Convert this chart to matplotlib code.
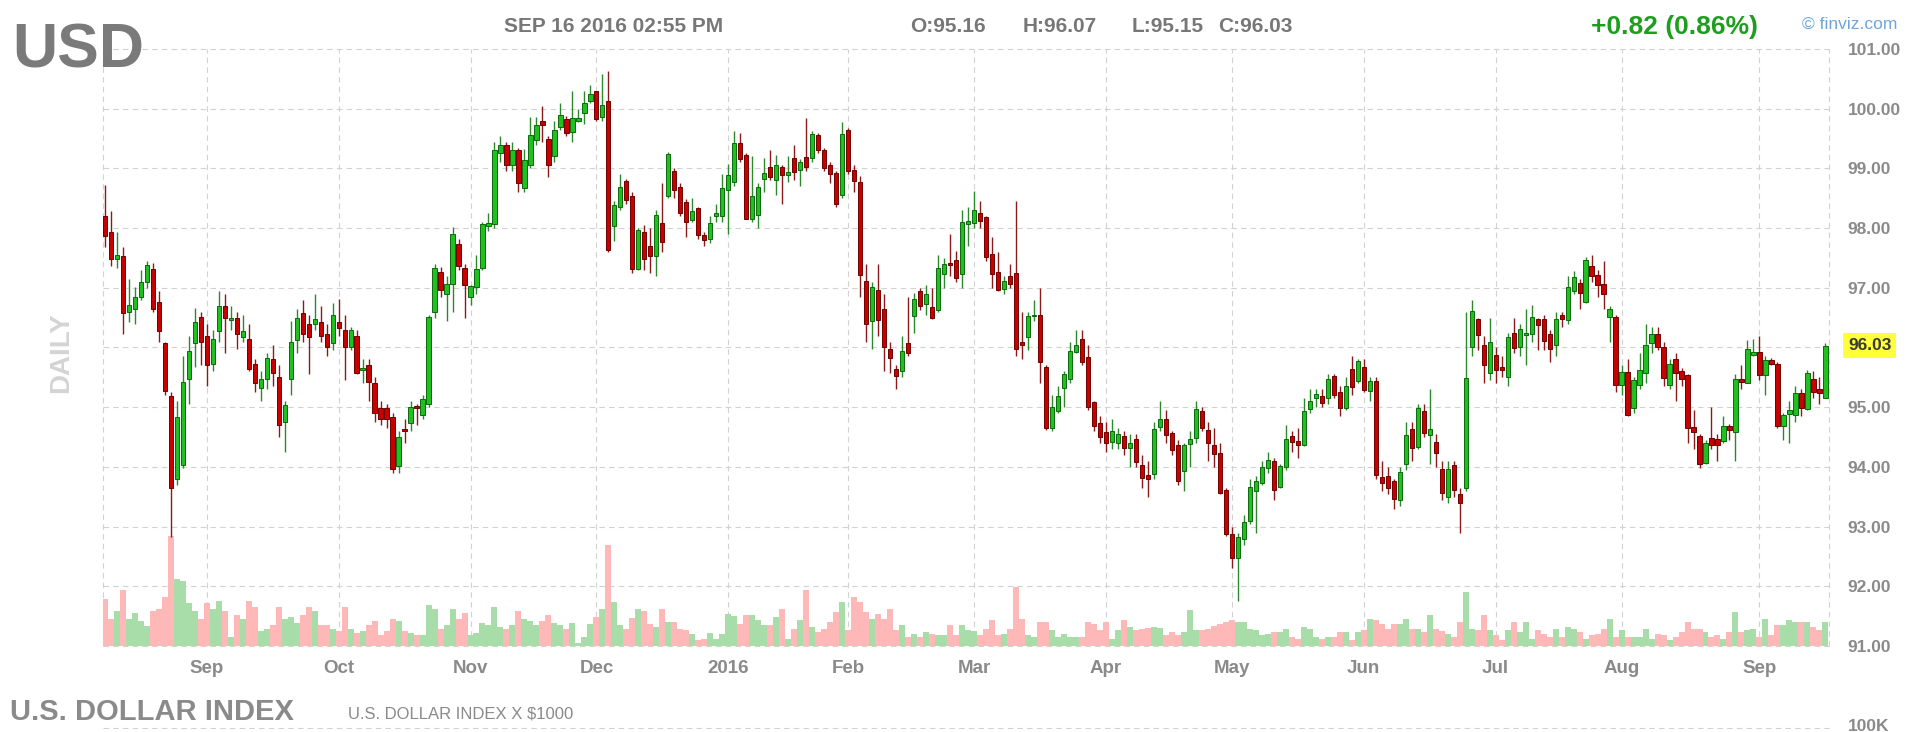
import matplotlib
matplotlib.use('Agg')
import matplotlib.pyplot as plt
import matplotlib.transforms as mtransforms
from matplotlib.lines import Line2D
import numpy as np

plt.rcParams['font.family'] = ['Liberation Sans', 'DejaVu Sans']
plt.rcParams['lines.scale_dashes'] = False

# daily OHLC, Aug 2015 .. Sep 16 2016
opens = [
    98.21, 97.94, 97.48, 97.54, 96.60, 96.65, 96.84, 97.10, 97.32, 96.77, 96.08, 95.18, 93.80, 94.04, 95.47, 96.08, 96.51,
    96.19, 95.73, 96.27, 96.70, 96.46, 96.50, 96.18, 96.14, 95.73, 95.32, 95.48, 95.80, 95.51, 94.76, 95.48, 96.12, 96.57, 96.40, 96.40, 96.43, 96.23, 96.07,
    96.43, 96.30, 96.00, 96.20, 95.62, 95.70, 95.40, 94.99, 94.99, 94.83, 94.01, 94.64, 94.73, 95.02, 94.87, 95.05, 96.59, 97.27, 96.90, 97.07, 97.73, 97.34,
    96.84, 97.01, 97.34, 98.03, 98.07, 99.25, 99.40, 99.05, 99.30, 98.67, 99.06, 99.47, 99.80, 99.50, 99.20, 99.69, 99.83, 99.61, 99.80, 99.92, 100.13,
    100.29, 99.86, 100.13, 98.03, 98.36, 98.79, 98.54, 97.32, 97.94, 97.70, 97.53, 98.09, 98.53, 98.96, 98.69, 98.43, 98.13, 98.33, 97.89, 97.82, 98.20, 98.20,
    98.64, 98.78, 99.43, 99.22, 98.15, 98.22, 98.83, 99.03, 98.81, 99.03, 98.89, 99.17, 98.97, 99.19, 99.17, 99.56, 99.31, 99.06, 98.93, 98.55,
    99.65, 98.98, 98.77, 97.11, 96.44, 96.97, 96.64, 95.98, 95.64, 95.60, 96.08, 96.53, 96.94, 96.73, 96.68, 96.62, 97.23, 97.41, 97.47, 97.23, 98.07,
    98.09, 98.26, 98.18, 97.57, 97.27, 96.98, 97.20, 97.25, 96.10, 96.18, 96.52, 96.54, 95.68, 94.65, 94.93, 95.32, 95.47, 95.93, 96.15, 95.84, 95.08, 94.73,
    94.58, 94.42, 94.40, 94.51, 94.31, 94.47, 94.04, 93.87, 93.88, 94.66, 94.81, 94.57, 94.37, 93.93, 94.38, 94.48, 94.94, 94.61, 94.37, 94.23, 93.61,
    92.88, 92.47, 92.80, 93.09, 93.59, 93.73, 93.98, 94.10, 93.66, 93.99, 94.51, 94.44, 94.37, 94.97, 95.15, 95.19, 95.15, 95.53, 95.26, 94.99, 95.64, 95.44,
    95.67, 95.27, 95.44, 93.83, 93.84, 93.77, 93.44, 94.05, 94.64, 94.34, 94.94, 94.54, 94.42, 93.97, 93.50, 94.04, 93.54, 93.64, 96.01, 96.47, 96.04, 95.57,
    95.88, 95.68, 95.51, 96.25, 96.01, 96.21, 96.23, 96.48, 96.48, 96.23, 96.04, 96.55, 96.46, 96.94, 97.08, 96.77, 97.37, 97.21, 97.07, 96.51, 96.51,
    95.37, 95.59, 94.98, 95.37, 95.57, 96.07, 96.23, 96.01, 95.38, 95.81, 95.61, 95.54, 94.66, 94.51, 94.07, 94.49, 94.47, 94.43, 94.68, 94.58, 95.48, 95.40, 95.87,
    95.93, 95.54, 95.79, 95.72, 94.69, 94.88, 94.87, 95.24, 94.97, 95.47, 95.31, 95.16,
]
highs = [
    98.72, 98.28, 97.93, 97.68, 97.15, 97.01, 97.29, 97.45, 97.42, 96.95, 96.10, 95.26, 95.10, 95.85, 96.20, 96.67, 96.60,
    96.40, 96.30, 96.95, 96.90, 96.70, 96.60, 96.55, 96.40, 95.80, 95.60, 95.90, 96.05, 95.70, 95.10, 96.45, 96.65, 96.80, 96.55, 96.90, 96.70, 96.40, 96.75,
    96.82, 96.55, 96.35, 96.30, 95.80, 95.80, 95.50, 95.10, 95.05, 94.90, 94.60, 94.80, 95.10, 95.05, 95.20, 96.55, 97.40, 97.35, 97.20, 98.02, 97.82, 97.40,
    97.05, 97.55, 98.10, 98.25, 99.45, 99.55, 99.45, 99.45, 99.35, 99.33, 99.86, 99.86, 100.05, 99.55, 99.80, 100.10, 99.88, 100.30, 100.00, 100.30, 100.40,
    100.30, 100.58, 100.63, 98.45, 98.90, 98.82, 98.60, 98.00, 98.05, 98.00, 98.30, 98.75, 99.27, 99.00, 98.75, 98.48, 98.50, 98.35, 97.93, 98.20, 98.40, 98.90,
    99.08, 99.63, 99.60, 99.25, 99.20, 98.75, 99.17, 99.30, 99.23, 99.05, 99.20, 99.40, 99.15, 99.85, 99.62, 99.60, 99.35, 99.10, 98.95, 99.78,
    99.68, 99.05, 98.88, 97.40, 97.10, 97.40, 96.90, 96.10, 95.70, 96.20, 96.85, 96.92, 97.00, 97.05, 97.00, 97.55, 97.50, 97.90, 97.62, 98.30, 98.35,
    98.62, 98.45, 98.20, 97.85, 97.60, 97.20, 97.40, 98.45, 96.60, 96.60, 96.80, 97.00, 95.70, 95.20, 95.35, 95.60, 96.10, 96.30, 96.30, 96.05, 95.10, 94.85,
    94.75, 94.80, 94.65, 94.60, 94.55, 94.55, 94.20, 94.10, 94.75, 95.10, 94.95, 94.60, 94.45, 94.40, 94.60, 95.10, 95.00, 94.75, 94.65, 94.40, 93.65,
    93.00, 92.90, 93.20, 93.80, 93.85, 94.10, 94.25, 94.15, 94.05, 94.70, 94.60, 94.65, 95.15, 95.30, 95.30, 95.30, 95.55, 95.55, 95.35, 95.50, 95.85, 95.80,
    95.80, 95.50, 95.50, 94.10, 94.00, 93.80, 94.00, 94.75, 94.75, 95.05, 95.05, 95.30, 94.55, 94.10, 94.10, 94.10, 93.65, 96.60, 96.80, 96.50, 96.20, 96.50,
    96.00, 95.85, 96.25, 96.50, 96.40, 96.65, 96.72, 96.50, 96.55, 96.30, 96.60, 96.60, 97.20, 97.28, 97.15, 97.52, 97.55, 97.30, 97.45, 96.70, 96.55,
    95.70, 95.80, 95.50, 95.90, 96.40, 96.35, 96.35, 96.10, 95.80, 95.90, 95.65, 95.55, 94.95, 94.55, 94.45, 95.00, 94.55, 94.85, 94.72, 95.55, 95.70, 96.13, 96.15,
    96.20, 95.85, 95.82, 95.75, 94.90, 95.10, 95.35, 95.30, 95.62, 95.60, 95.50, 96.07,
]
lows = [
    97.68, 97.37, 97.34, 96.23, 96.43, 96.40, 96.80, 97.00, 96.60, 96.10, 95.20, 92.83, 93.70, 93.98, 95.05, 95.67, 95.70,
    95.35, 95.60, 96.10, 95.90, 96.30, 95.98, 96.10, 95.60, 95.25, 95.10, 95.30, 95.35, 94.50, 94.25, 95.20, 95.90, 96.10, 95.55, 96.30, 96.10, 95.85, 95.95,
    96.20, 95.45, 95.95, 95.55, 95.40, 95.10, 94.75, 94.70, 94.65, 93.90, 93.90, 94.40, 94.60, 94.70, 94.80, 95.00, 96.50, 96.85, 96.45, 96.60, 97.30, 96.50,
    96.72, 96.90, 97.30, 97.95, 98.00, 99.10, 98.95, 98.95, 98.60, 98.60, 99.00, 99.40, 99.45, 98.85, 99.10, 99.65, 99.55, 99.45, 99.78, 99.75, 100.10,
    99.80, 99.80, 97.60, 97.78, 98.30, 98.40, 97.25, 97.30, 97.30, 97.25, 97.20, 97.60, 98.50, 98.50, 98.20, 97.85, 98.10, 97.82, 97.70, 97.75, 98.10, 98.10,
    97.90, 98.70, 99.10, 98.15, 98.10, 98.00, 98.60, 98.80, 98.55, 98.40, 98.78, 98.80, 98.70, 98.95, 99.10, 99.25, 98.95, 98.75, 98.35, 98.50,
    98.90, 98.60, 96.85, 96.10, 95.97, 96.20, 95.60, 95.58, 95.30, 95.50, 95.85, 96.25, 96.62, 96.55, 96.47, 96.60, 97.00, 97.20, 97.10, 97.00, 97.70,
    98.00, 98.00, 97.45, 97.00, 96.95, 96.90, 97.00, 95.85, 95.80, 95.95, 96.45, 95.40, 94.62, 94.60, 94.90, 95.00, 95.40, 95.90, 95.70, 94.95, 94.60, 94.40,
    94.25, 94.30, 94.30, 94.20, 94.00, 94.00, 93.65, 93.50, 93.80, 94.60, 94.40, 94.20, 93.70, 93.60, 94.00, 94.40, 94.60, 94.10, 94.00, 93.55, 92.85,
    92.30, 91.75, 92.70, 93.05, 92.90, 93.70, 93.90, 93.45, 93.65, 93.95, 94.25, 94.15, 94.35, 94.90, 95.00, 95.00, 95.05, 95.15, 94.85, 94.95, 95.20, 95.40,
    95.25, 95.10, 93.80, 93.60, 93.55, 93.30, 93.35, 93.95, 94.10, 94.30, 94.50, 94.05, 94.00, 93.45, 93.40, 93.50, 92.90, 93.60, 95.85, 95.95, 95.40, 95.45,
    95.40, 95.50, 95.35, 95.90, 95.85, 95.70, 96.10, 95.95, 95.95, 95.75, 95.85, 96.35, 96.40, 96.90, 96.65, 96.75, 97.10, 96.85, 96.65, 96.10, 95.25,
    95.20, 94.85, 94.90, 95.30, 95.40, 95.90, 95.95, 95.35, 95.30, 95.10, 95.35, 94.40, 94.30, 93.98, 94.05, 94.30, 94.10, 94.40, 94.45, 94.10, 95.30, 95.40, 95.85,
    95.45, 95.20, 95.70, 94.65, 94.45, 94.40, 94.75, 94.85, 94.95, 95.15, 95.05, 95.15,
]
closes = [
    97.86, 97.48, 97.55, 96.57, 96.72, 96.84, 97.10, 97.38, 96.64, 96.27, 95.27, 93.64, 94.83, 95.43, 95.94, 96.43, 96.09,
    95.70, 96.14, 96.70, 96.50, 96.50, 96.23, 96.27, 95.64, 95.40, 95.47, 95.83, 95.57, 94.70, 95.04, 96.10, 96.50, 96.23, 96.18, 96.47, 96.20, 96.00, 96.54,
    96.32, 96.00, 96.30, 95.57, 95.65, 95.43, 94.90, 94.80, 94.80, 93.96, 94.50, 94.60, 95.01, 94.98, 95.14, 96.51, 97.33, 96.97, 97.07, 97.90, 97.37, 97.04,
    97.03, 97.32, 98.07, 98.08, 99.30, 99.40, 99.05, 99.30, 98.75, 99.14, 99.56, 99.72, 99.72, 99.06, 99.65, 99.89, 99.60, 99.85, 99.85, 100.09, 100.24,
    99.82, 100.06, 97.63, 98.39, 98.69, 98.47, 97.32, 97.97, 97.48, 97.53, 98.22, 97.76, 99.24, 98.64, 98.25, 98.11, 98.29, 97.89, 97.80, 98.09, 98.26, 98.67,
    98.89, 99.43, 99.15, 98.15, 98.53, 98.69, 98.93, 98.86, 99.06, 98.89, 98.94, 98.94, 99.11, 99.03, 99.58, 99.31, 99.00, 98.90, 98.40, 99.57,
    98.96, 98.79, 97.21, 96.40, 97.01, 96.46, 96.00, 95.83, 95.53, 95.94, 95.90, 96.82, 96.70, 96.90, 96.50, 97.34, 97.40, 97.38, 97.16, 98.11, 98.12,
    98.30, 98.12, 97.51, 97.23, 96.97, 97.12, 97.06, 95.98, 96.05, 96.53, 96.54, 95.76, 94.65, 95.00, 95.18, 95.55, 95.94, 96.05, 95.76, 95.01, 94.68, 94.50,
    94.40, 94.60, 94.55, 94.31, 94.40, 94.09, 93.81, 93.79, 94.64, 94.81, 94.54, 94.29, 93.77, 94.37, 94.47, 94.97, 94.65, 94.40, 94.21, 93.57, 92.87,
    92.47, 92.82, 93.07, 93.66, 93.77, 94.00, 94.12, 93.62, 94.01, 94.47, 94.42, 94.37, 94.94, 95.10, 95.22, 95.07, 95.47, 95.21, 94.98, 95.36, 95.34, 95.77,
    95.29, 95.44, 93.86, 93.73, 93.65, 93.46, 93.92, 94.54, 94.32, 94.98, 94.57, 94.64, 94.23, 93.57, 93.96, 93.62, 93.40, 95.49, 96.61, 96.21, 95.71, 96.09,
    95.62, 95.62, 96.18, 95.99, 96.31, 96.25, 96.51, 96.37, 96.11, 95.97, 96.48, 96.47, 97.01, 97.18, 96.92, 97.46, 97.19, 97.05, 96.90, 96.65, 95.37,
    95.59, 94.87, 95.46, 95.62, 96.04, 96.23, 96.01, 95.49, 95.73, 95.57, 95.48, 94.65, 94.58, 94.05, 94.40, 94.37, 94.37, 94.68, 94.62, 95.48, 95.43, 95.97, 95.93,
    95.54, 95.79, 95.73, 94.68, 94.87, 94.95, 95.24, 94.98, 95.58, 95.26, 95.23, 96.03,
]
volume_k = [
    47, 27, 35, 56, 27, 33, 25, 20, 35, 37, 49, 110, 67, 65, 43, 35, 27,
    43, 37, 45, 35, 9, 31, 27, 45, 39, 15, 17, 21, 39, 27, 29, 23, 31, 39, 35, 21, 21, 17,
    15, 39, 17, 13, 15, 21, 25, 11, 15, 27, 25, 15, 13, 11, 11, 41, 37, 17, 21, 37, 27, 33,
    11, 13, 23, 21, 39, 19, 17, 21, 35, 27, 25, 21, 25, 31, 23, 21, 17, 23, 3, 9, 22,
    29, 37, 101, 44, 21, 17, 28, 37, 35, 22, 19, 37, 24, 24, 17, 16, 12, 6, 7, 13, 7, 12,
    32, 30, 22, 31, 31, 26, 21, 21, 29, 37, 7, 17, 26, 56, 19, 14, 17, 24, 34, 44,
    16, 49, 44, 34, 27, 32, 27, 37, 16, 21, 9, 12, 9, 14, 12, 11, 11, 21, 11, 21, 16,
    15, 11, 17, 26, 11, 12, 17, 59, 27, 11, 9, 24, 24, 16, 9, 12, 9, 9, 9, 24, 22, 16,
    24, 7, 16, 26, 19, 16, 17, 18, 19, 18, 11, 14, 11, 14, 36, 16, 16, 17, 20, 22, 24,
    26, 24, 24, 17, 16, 11, 12, 14, 14, 17, 9, 7, 19, 17, 9, 7, 9, 9, 14, 14, 6, 14,
    16, 27, 26, 22, 17, 22, 22, 27, 17, 17, 14, 31, 17, 15, 12, 9, 24, 54, 17, 16, 31, 16,
    11, 6, 16, 24, 14, 24, 7, 16, 12, 9, 17, 9, 19, 17, 14, 7, 11, 12, 17, 27, 9,
    16, 9, 9, 9, 17, 7, 12, 11, 6, 9, 14, 24, 17, 17, 14, 9, 11, 7, 14, 34, 14, 16, 17,
    9, 27, 11, 21, 21, 26, 24, 24, 24, 19, 16, 24,
]

# first bar of each month and its label
month_idx = [17, 39, 61, 82, 104, 124, 145, 167, 188, 210, 232, 253, 276]
month_labels = ['Sep', 'Oct', 'Nov', 'Dec', '2016', 'Feb', 'Mar', 'Apr', 'May', 'Jun', 'Jul', 'Aug', 'Sep']
price_levels = [91, 92, 93, 94, 95, 96, 97, 98, 99, 100, 101]
last_price = 96.03

W, H = 1929, 732
fig = plt.figure(figsize=(W / 100, H / 100), dpi=100)
rect = [103 / W, 1 - 646 / H, 1726 / W, 597 / H]
ax_vol = fig.add_axes(rect)
ax = fig.add_axes(rect, sharex=ax_vol)
ax.patch.set_visible(False)

o = np.array(opens)
h = np.array(highs)
l = np.array(lows)
c = np.array(closes)
idx = np.arange(len(c))
up = c >= o

# grid (drawn on the bottom axes so volume covers it)
grid_kw = dict(colors='#d2d2d2', linewidth=0.8, linestyles=[(0, (4, 3))], zorder=1, clip_on=False)
price_tf = mtransforms.blended_transform_factory(ax_vol.transAxes, ax.transData)
ax_vol.hlines(price_levels, 0, 1, transform=price_tf, **grid_kw)
ax_vol.vlines(month_idx, 0, 1, transform=ax_vol.get_xaxis_transform(), **grid_kw)
ax_vol.vlines([0, 1], 0, 1, transform=ax_vol.transAxes, **grid_kw)

# volume
ax_vol.bar(idx, volume_k, width=1.0, color=np.where(up, '#a8dca8', '#ffb8b8'), linewidth=0, zorder=2)
ax_vol.set_ylim(0, 597)

# candles
ax.vlines(idx, l, h, colors=np.where(up, '#2a8a2a', '#8a1a1a'), linewidth=1.0, zorder=3)
ax.bar(idx, np.maximum(np.abs(c - o), 0.015), bottom=np.minimum(o, c), width=0.7,
       color=np.where(up, '#20c020', '#c80000'), edgecolor=np.where(up, '#0b6a0b', '#6e0000'),
       linewidth=0.7, zorder=4)

ax.set_xlim(-0.3, len(c) - 0.4)
ax.set_ylim(91, 101)

for a in (ax, ax_vol):
    for s in a.spines.values():
        s.set_visible(False)
ax_vol.tick_params(left=False, bottom=False, labelleft=False, labelbottom=False)

ax.yaxis.tick_right()
shown = [p for p in price_levels if p != 96]
ax.set_yticks(shown, [f'{p:.2f}' for p in shown], fontweight='bold')
ax.tick_params(axis='y', length=0, pad=13.5, labelsize=12.5, labelcolor='#8a8a8a')
ax.set_xticks(month_idx, month_labels, fontweight='bold')
ax.tick_params(axis='x', length=0, pad=10, labelsize=13.5, labelcolor='#8a8a8a')

ax.text(1.011, last_price, f'{last_price:.2f}', transform=price_tf, ha='left', va='center',
        fontsize=12.5, fontweight='bold', color='#3a3a3a',
        bbox=dict(boxstyle='square,pad=0.28', facecolor='#ffff3a', edgecolor='none'))

# header / footer texts
def ftxt(x, y, s, **kw):
    fig.text(x / W, 1 - y / H, s, va='baseline', **kw)

ftxt(12, 68, 'USD', fontsize=45, fontweight='bold', color='#7a7a7a')
hdr = dict(fontsize=15, fontweight='bold', color='#777777')
ftxt(504, 32, 'SEP 16 2016 02:55 PM', **hdr)
ftxt(910, 32, 'O:95.16', **hdr)
ftxt(1023, 32, 'H:96.07', **hdr)
ftxt(1132, 32, 'L:95.15', **hdr)
ftxt(1218, 32, 'C:96.03', **hdr)
ftxt(1591, 34, '+0.82 (0.86%)', fontsize=19, fontweight='bold', color='#1e9e1e')
ftxt(1802, 29, '\u00a9 finviz.com', fontsize=12.5, color='#6ea6da')
fig.text(61 / W, 1 - 353 / H, 'DAILY', rotation=90, ha='center', va='center',
         fontsize=20, fontweight='bold', color='#d4d4d4')
ftxt(10, 720, 'U.S. DOLLAR INDEX', fontsize=21, fontweight='bold', color='#8a8a8a')
ftxt(348, 718, 'U.S. DOLLAR INDEX X $1000', fontsize=12, color='#8a8a8a')
ftxt(1848, 731, '100K', fontsize=12.5, fontweight='bold', color='#8a8a8a')

fig.add_artist(Line2D([103 / W, 1829 / W], [1 - 728 / H] * 2, transform=fig.transFigure,
                      color='#d2d2d2', linewidth=0.8, linestyle=(0, (4, 3))))

fig.savefig('out.png', dpi=100, facecolor='white')
